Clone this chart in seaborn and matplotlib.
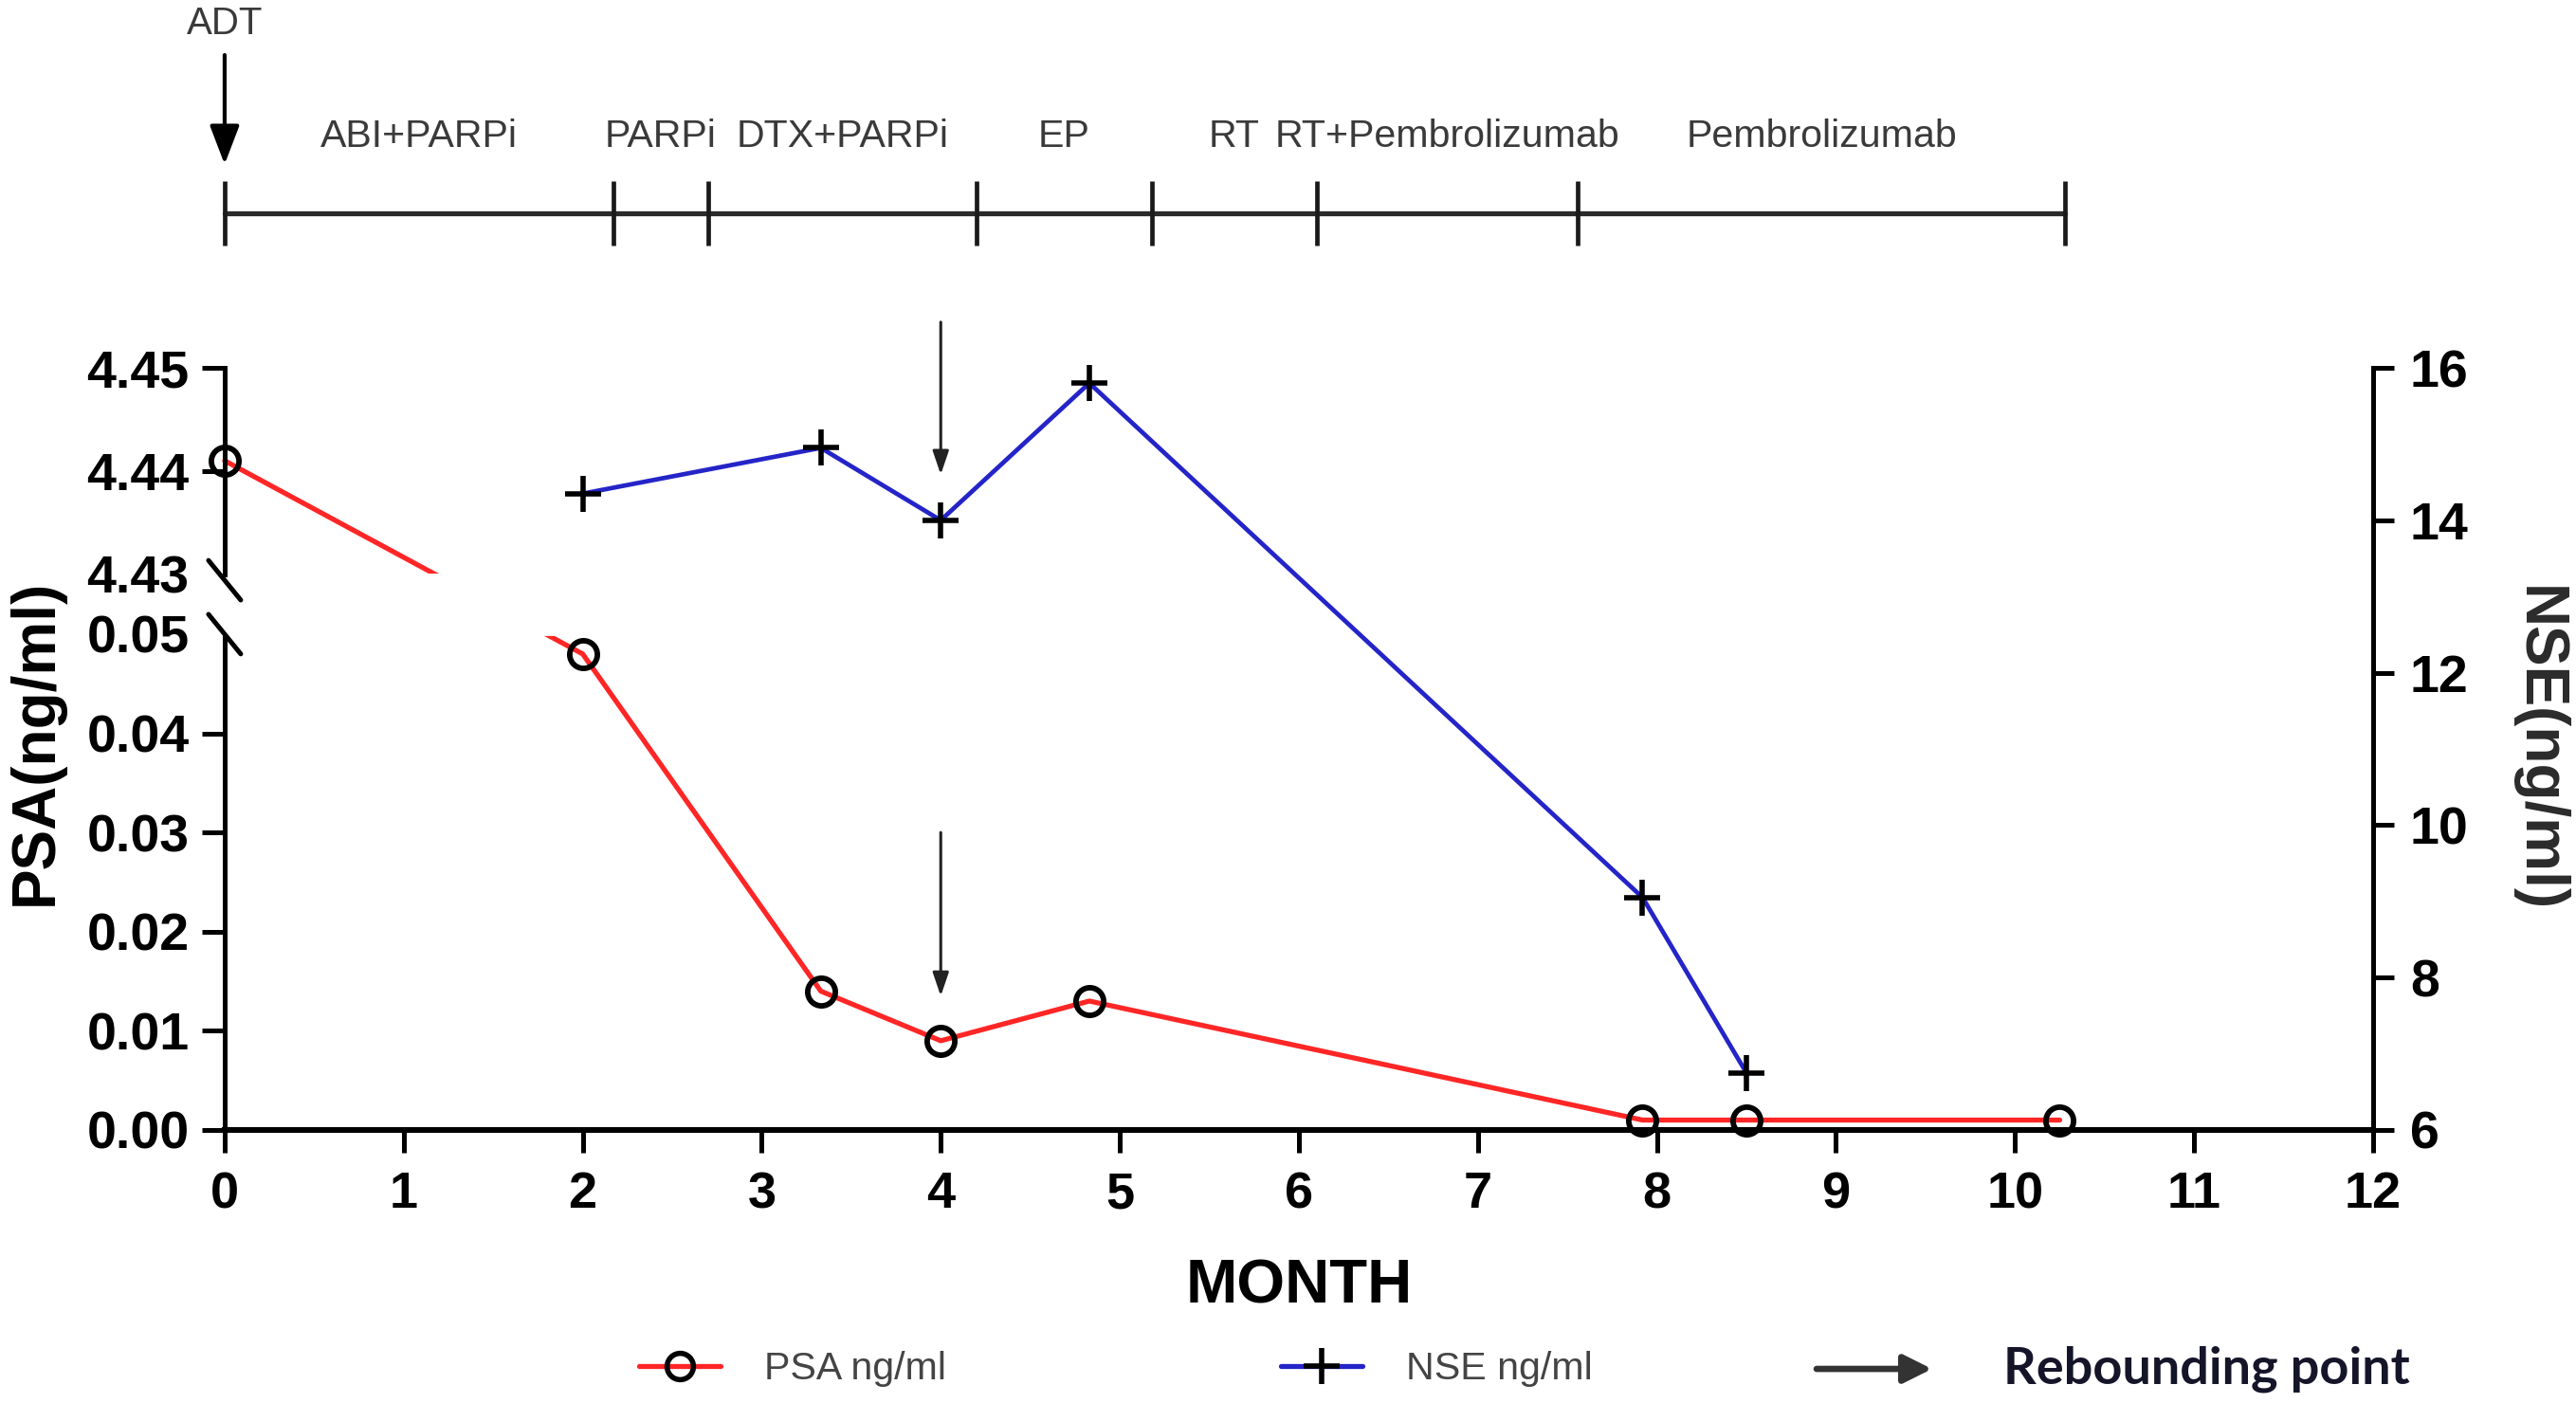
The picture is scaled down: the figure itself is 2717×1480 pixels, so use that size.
import numpy as np
import matplotlib
matplotlib.use("Agg")
import matplotlib.pyplot as plt
import matplotlib.transforms as mtransforms
from matplotlib.lines import Line2D
import seaborn as sns

# values
psa_month = [0, 2, 3.33, 4, 4.83, 7.92, 8.5, 10.25]
psa_value = [4.441, 0.048, 0.014, 0.009, 0.013, 0.001, 0.001, 0.001]
nse_month = [2, 3.33, 4, 4.83, 7.92, 8.5]
nse_value = [14.35, 14.95, 14.0, 15.8, 9.05, 6.75]

phase_edges = [0, 2.17, 2.7, 4.2, 5.18, 6.1, 7.56, 10.28]
phase_labels = ["ABI+PARPi", "PARPi", "DTX+PARPi", "EP", "RT",
                "RT+Pembrolizumab", "Pembrolizumab"]

psa_ticks = [0, 0.01, 0.02, 0.03, 0.04, 0.05, 4.43, 4.44, 4.45]
nse_ticks = [6, 8, 10, 12, 14, 16]
month_ticks = list(range(13))
rebound_month = 4

RED = "#ff2626"
BLUE = "#2424c8"

# broken y axis for PSA: 0-0.05 and 4.43-4.45 with a short gap between
LOW_TOP, HIGH_BOT = 0.05, 4.43
GAP = 0.605
K = 1.04


def fwd(y):
    y = np.asarray(y, dtype=float)
    low = y * 100
    mid = 5 + (y - LOW_TOP) / (HIGH_BOT - LOW_TOP) * GAP
    high = 5 + GAP + (y - HIGH_BOT) * 100 * K
    return np.where(y <= LOW_TOP, low, np.where(y >= HIGH_BOT, high, mid))


def inv(t):
    t = np.asarray(t, dtype=float)
    low = t / 100
    mid = LOW_TOP + (t - 5) / GAP * (HIGH_BOT - LOW_TOP)
    high = HIGH_BOT + (t - 5 - GAP) / (100 * K)
    return np.where(t <= 5, low, np.where(t >= 5 + GAP, high, mid))


sns.set_theme(style="ticks")
plt.rcParams['font.family'] = ['Liberation Sans', 'DejaVu Sans']

fig = plt.figure(figsize=(13.585, 7.4), dpi=200)
ax = fig.add_axes([0.0872, 0.1946, 0.834, 0.5432])
ax.set_yscale('function', functions=(fwd, inv))
ax2 = ax.twinx()

# PSA (left axis)
sns.lineplot(x=psa_month, y=psa_value, ax=ax, color=RED, lw=1.9,
             marker='o', markersize=10.5, mfc='none', mec='black', mew=2.1,
             clip_on=False, zorder=2)
# NSE (right axis)
sns.lineplot(x=nse_month, y=nse_value, ax=ax2, color=BLUE, lw=1.7,
             marker='+', markersize=14, mec='black', mew=2,
             clip_on=False)

ax.set_xlim(0, 12)
ax.set_ylim(0, 4.45)
ax2.set_ylim(6, 16)
ax.set_xticks(month_ticks)
ax.set_yticks(psa_ticks)
ax.set_yticklabels([f"{v:.2f}" for v in psa_ticks])
ax2.set_yticks(nse_ticks)

for a in (ax, ax2):
    a.spines['top'].set_visible(False)
ax.spines['right'].set_visible(False)
ax.spines['left'].set_visible(False)
ax2.spines['left'].set_visible(False)
ax2.spines['bottom'].set_visible(False)
ax.spines['bottom'].set_linewidth(2.2)
ax.spines['bottom'].set_color('black')
ax2.spines['right'].set_linewidth(1.8)
ax2.spines['right'].set_color('black')

ax.tick_params(axis='x', length=8.5, width=1.8, pad=7, labelsize=19.5, colors='black')
ax.tick_params(axis='y', length=8.5, width=1.8, pad=5, labelsize=20, colors='black')
ax2.tick_params(axis='y', length=8, width=1.8, pad=6, labelsize=20, colors='black')
for lab in ax.get_xticklabels() + ax.get_yticklabels() + ax2.get_yticklabels():
    lab.set_fontweight('bold')

# no tick marks where the axis is broken
for tick, v in zip(ax.yaxis.get_major_ticks(), psa_ticks):
    if v in (LOW_TOP, HIGH_BOT):
        tick.tick1line.set_visible(False)

# hide the line inside the break
ax.axhspan(LOW_TOP, HIGH_BOT, xmin=0, xmax=1, color='white', zorder=3)

# left axis line drawn in two pieces, with break marks
yaxis_tr = ax.get_yaxis_transform()
ax.plot([0, 0], [0, LOW_TOP], transform=yaxis_tr, color='black', lw=1.8,
        clip_on=False, zorder=5, solid_capstyle='butt')
ax.plot([0, 0], [HIGH_BOT, 4.45], transform=yaxis_tr, color='black', lw=1.8,
        clip_on=False, zorder=5, solid_capstyle='projecting')
top_t = fwd(4.45)
for v, shift in ((HIGH_BOT, -0.008), (LOW_TOP, 0.0)):
    f = float(fwd(v) / top_t) + shift
    ax.plot([-0.0075, 0.0075], [f + 0.026, f - 0.026], transform=ax.transAxes,
            color='black', lw=1.8, clip_on=False, zorder=5)

ax.set_xlabel('MONTH', fontsize=23.5, fontweight='bold', color='black')
ax.xaxis.set_label_coords(0.5, -0.168)
ax.set_ylabel('PSA(ng/ml)', fontsize=23, fontweight='bold', color='black', va='center')
ax.yaxis.set_label_coords(-0.0878, 0.509)
ax2.set_ylabel('NSE(ng/ml)', fontsize=23, fontweight='bold', color='#2b2b2b',
               rotation=270, va='center', ha='center')
ax2.yaxis.set_label_coords(1.0768, 0.5)

# treatment timeline above the plot
blend = mtransforms.blended_transform_factory(ax.transData, ax.transAxes)
ax.plot([phase_edges[0], phase_edges[-1]], [1.2026, 1.2026], transform=blend,
        color='#2a2a2a', lw=1.9, clip_on=False)
ax.vlines(phase_edges, 1.16, 1.245, transform=blend, color='#1a1a1a', lw=1.7, clip_on=False)
for left, right, lab in zip(phase_edges[:-1], phase_edges[1:], phase_labels):
    ax.text((left + right) / 2, 1.304, lab, transform=blend, ha='center', va='center',
            fontsize=14.8, color='#3a3a3a')

ax.annotate('ADT', xy=(0, 1.267), xycoords=blend, xytext=(0, 1.452), textcoords=blend,
            ha='center', va='center', fontsize=14.5, color='#3a3a3a', annotation_clip=False,
            arrowprops=dict(arrowstyle='-|>,head_length=0.63,head_width=0.24',
                            color='black', lw=1.5, mutation_scale=20, shrinkA=3, shrinkB=0))

# rebounding point arrows
i_nse = nse_month.index(rebound_month)
ax2.annotate('', xy=(rebound_month, nse_value[i_nse] + 0.6),
             xytext=(rebound_month, nse_value[i_nse] + 2.6), annotation_clip=False,
             arrowprops=dict(arrowstyle='-|>,head_length=0.5,head_width=0.17',
                             color='#222222', lw=1.1, mutation_scale=15, shrinkA=0, shrinkB=0))
i_psa = psa_month.index(rebound_month)
ax.annotate('', xy=(rebound_month, psa_value[i_psa] + 0.0045),
            xytext=(rebound_month, psa_value[i_psa] + 0.021), annotation_clip=False,
            arrowprops=dict(arrowstyle='-|>,head_length=0.5,head_width=0.17',
                            color='#222222', lw=1.1, mutation_scale=15, shrinkA=0, shrinkB=0))

# legend along the bottom
handles = [
    Line2D([], [], color=RED, lw=1.9, marker='o', ms=10, mfc='none', mec='black', mew=2),
    Line2D([], [], color=BLUE, lw=1.9, marker='+', ms=14, mec='black', mew=2),
]
fig.legend(handles, ['PSA ng/ml', 'NSE ng/ml'], ncol=2, frameon=False,
           loc='center left', bbox_to_anchor=(674 / 2717, 0.0243),
           handlelength=2.1, handletextpad=1.1, columnspacing=8.6,
           borderpad=0, borderaxespad=0, fontsize=14.8, labelcolor='#444444')
ax.annotate('', xy=(0.750, 0.0243), xycoords='figure fraction',
            xytext=(0.7052, 0.0243), textcoords='figure fraction', annotation_clip=False,
            arrowprops=dict(arrowstyle='-|>,head_length=0.6,head_width=0.3',
                            color='#333333', lw=2.4, mutation_scale=15, shrinkA=0, shrinkB=0))
fig.text(0.7777, 0.0243, 'Rebounding point', ha='left', va='center', fontsize=19.5,
         fontweight='bold', color='#15152a', family=['Lato', 'DejaVu Sans'])

fig.savefig('out.png', dpi=200)
